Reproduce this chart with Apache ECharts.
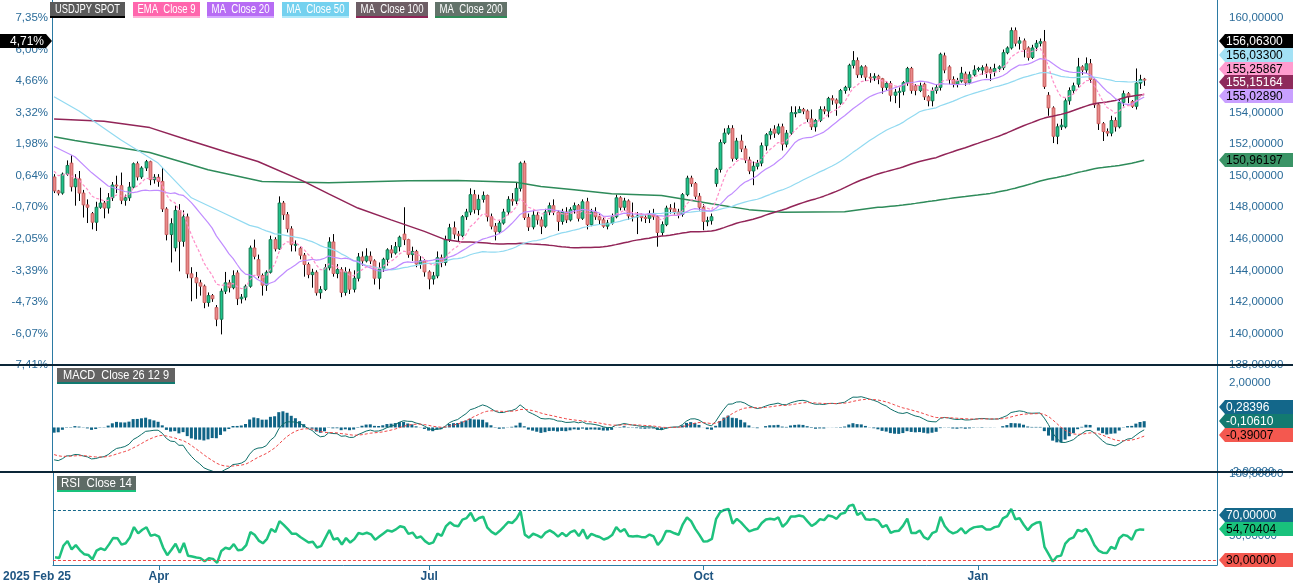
<!DOCTYPE html>
<html><head><meta charset="utf-8">
<script src="https://cdn.jsdelivr.net/npm/echarts@6/dist/echarts.min.js"></script>
<style>html,body{margin:0;padding:0;background:#fff}#c{width:1293px;height:586px}</style>
</head><body><div id="c"></div><script>
// ---------- DATA ----------
const startDate = '2025-02-25';
const slotCount = 280;
const firstLabel = '2025 Feb 25';
const tickDates = ['2025-04-01','2025-07-01','2025-10-01','2026-01-01'];
const tickLabels = ['Apr','Jul','Oct','Jan'];
const pctLabels = ['-7,41%','-6,07%','-4,73%','-3,39%','-2,05%','-0,70%','0,64%','1,98%','3,32%','4,66%','6,00%','7,35%'];

const opens = [149.92,149.04,148.9,150.1,150.8,149.3,149.8,148.9,148.15,147.6,
147.05,148.0,148.27,147.95,148.6,149.41,149.37,148.44,148.6,149.28,
150.76,149.92,150.49,150.89,149.75,149.9,149.64,147.89,146.27,145.43,
147.8,145.84,147.39,143.78,143.53,143.21,143.0,141.96,142.4,141.64,
140.9,142.68,143.21,142.9,143.84,142.2,142.3,142.99,145.42,144.68,
143.67,143.06,143.88,145.95,145.36,148.27,147.53,146.63,145.6,145.4,
144.96,144.37,143.73,143.88,142.58,142.79,144.16,145.8,143.8,144.05,
142.6,143.9,142.8,143.5,144.85,144.6,144.9,144.6,143.5,144.1,
144.7,145.3,145.1,145.5,146.3,145.95,145.0,145.2,144.4,144.6,
143.9,143.45,143.65,144.8,144.5,145.95,146.7,146.3,146.2,147.4,
147.7,148.8,147.85,148.5,148.75,147.4,146.8,146.45,147.0,147.7,
148.5,148.4,149.2,150.8,147.35,146.75,147.5,147.2,146.8,147.7,
148.1,147.7,147.1,147.7,147.2,147.85,148.1,147.3,148.35,146.9,
147.7,147.4,147.2,146.8,147.0,147.4,148.6,148.0,148.4,147.45,
147.4,147.45,147.35,147.3,147.6,147.4,146.4,146.9,147.95,147.9,
147.7,147.55,148.8,149.85,149.5,148.7,148.0,147.1,147.15,149.5,
150.4,152.1,152.7,153.0,151.1,152.2,151.7,151.0,150.3,150.6,
150.8,151.9,152.6,152.95,152.7,153.1,152.0,152.7,154.0,154.0,
154.2,154.1,153.6,153.1,153.5,154.2,154.1,154.9,154.8,154.6,
155.4,155.6,157.0,157.3,156.4,156.9,156.25,156.2,156.3,156.15,
155.6,155.85,155.1,155.3,155.35,155.9,156.8,155.7,155.4,155.8,
155.0,154.75,155.4,155.6,157.6,156.9,156.1,155.8,156.0,156.45,
155.9,156.4,156.75,156.7,156.9,156.75,156.6,156.8,156.85,157.8,
158.1,159.2,158.4,158.55,158.1,157.5,158.15,158.4,158.5,155.1,
154.3,152.5,153.1,153.1,154.75,155.4,155.8,156.9,156.7,157.1,
156.1,154.5,153.3,152.8,152.7,153.5,153.1,154.65,155.2,154.7,
154.4,155.87,156.12];

const closes = [149.04,148.9,150.1,150.65,149.3,149.8,148.9,148.15,148.0,147.05,
148.0,148.27,147.95,148.6,149.41,149.37,148.44,148.6,149.28,150.76,
149.92,150.49,150.89,149.75,149.9,149.64,147.89,146.27,146.96,147.8,
145.84,147.39,143.78,143.53,143.21,143.0,141.96,142.4,142.2,140.9,
142.68,143.21,142.9,143.67,142.2,142.3,142.99,145.42,144.89,143.67,
143.06,143.88,145.95,145.36,148.27,147.53,146.63,145.63,145.65,144.96,
144.37,143.73,143.88,142.58,142.79,144.16,145.8,143.8,144.05,142.6,
143.9,142.8,143.5,144.85,144.6,144.9,144.6,143.5,144.1,144.7,
145.3,145.1,145.5,146.1,145.95,145.0,145.2,144.4,144.6,143.9,
143.45,143.65,144.8,144.5,145.95,146.7,146.3,146.2,147.4,147.7,
148.8,147.85,148.5,148.75,147.4,146.8,146.45,147.0,147.7,148.5,
148.4,149.2,150.8,147.35,146.75,147.5,147.2,146.8,147.7,148.1,
147.7,147.1,147.7,147.2,147.85,148.1,147.3,148.35,146.9,147.7,
147.4,147.2,146.8,147.0,147.4,148.6,148.0,148.4,147.45,147.4,
147.45,147.35,147.3,147.6,147.4,146.4,146.9,147.95,147.9,147.7,
147.55,148.8,149.85,149.5,148.7,148.0,147.1,147.15,147.4,150.4,
152.1,152.7,153.0,151.1,152.2,151.7,151.0,150.3,150.6,150.8,
151.9,152.6,152.8,152.7,153.1,152.0,152.7,154.0,154.0,154.2,
154.1,153.6,153.1,153.5,154.2,154.1,154.9,154.8,154.6,155.4,
155.6,157.0,157.3,156.4,156.9,156.25,156.2,156.3,156.15,155.6,
155.85,155.1,155.3,155.35,155.9,156.8,155.4,155.4,155.7,155.0,
154.75,155.4,155.6,157.7,156.7,156.1,155.8,156.0,156.5,155.9,
156.4,156.7,156.8,156.85,156.56,156.55,156.8,156.9,157.8,158.1,
159.2,158.4,158.55,158.0,157.5,158.1,158.4,158.5,155.65,154.3,
152.5,153.1,153.2,154.75,155.4,155.7,156.9,156.7,157.1,156.1,
154.5,153.3,152.8,152.7,153.5,153.1,154.65,155.2,155.0,154.4,
155.87,156.1,156.063];

const lows = [148.9,148.75,148.8,150.0,149.0,148.1,148.4,147.35,147.0,146.6,
146.5,147.9,147.3,147.6,148.4,148.9,148.2,148.1,148.4,149.2,
149.7,149.8,150.3,149.4,149.5,149.3,147.7,145.9,144.5,145.2,
143.94,145.5,143.5,142.04,142.2,142.4,141.6,141.7,142.0,140.46,
139.94,142.5,142.6,142.8,141.8,141.9,142.1,142.9,144.7,143.5,
142.4,142.7,143.8,145.2,145.3,147.2,146.4,145.2,145.2,144.7,
143.6,143.5,142.9,142.4,142.2,142.7,144.0,143.6,143.5,142.3,
142.4,142.5,142.6,143.3,144.3,144.5,144.4,143.1,142.8,143.9,
144.3,144.8,145.0,145.2,145.6,144.8,144.6,144.2,144.1,143.6,
142.8,143.1,143.5,144.2,144.3,145.8,146.0,145.8,146.1,147.2,
147.5,147.6,147.5,148.3,147.1,146.6,145.9,146.3,146.9,147.5,
148.1,148.2,149.0,147.2,146.5,146.6,146.9,146.3,146.7,147.5,
147.5,146.5,146.9,147.0,147.1,147.6,147.1,147.2,146.6,146.8,
147.2,146.9,146.7,146.6,146.9,147.3,147.8,147.8,147.2,147.1,
146.3,147.1,147.0,147.0,147.2,145.5,146.2,146.8,147.6,147.5,
147.3,147.4,148.7,149.3,148.5,147.8,146.55,146.8,146.9,149.3,
150.2,152.0,152.6,150.9,151.0,151.5,150.8,150.1,149.4,150.4,
150.6,151.6,152.3,152.4,152.6,151.6,151.8,152.6,153.7,154.0,
153.9,153.4,152.9,152.8,153.4,153.9,153.7,154.5,153.8,154.5,
155.2,155.4,156.8,156.2,156.2,156.0,155.9,156.0,155.8,155.2,
155.4,154.7,154.6,154.3,155.1,155.7,155.2,155.1,155.3,154.8,
154.4,154.4,155.2,155.4,156.5,155.8,155.6,155.6,155.9,155.7,
155.8,156.3,156.6,156.4,156.2,156.0,156.3,156.6,156.7,157.7,
158.0,158.2,158.0,157.5,157.3,157.4,157.9,158.2,155.5,153.8,
152.07,152.0,152.9,153.0,154.5,155.2,155.6,156.4,156.5,155.9,
154.3,152.9,152.2,152.5,152.5,152.8,153.0,154.4,154.6,154.3,
154.2,155.5,155.7];

const highs = [150.1,149.1,150.2,150.97,151.3,150.1,150.3,149.1,148.5,147.7,
148.35,149.24,148.4,148.9,149.6,150.0,150.2,148.8,149.6,150.84,
150.9,150.6,151.0,150.95,150.1,150.1,150.49,148.0,147.3,148.1,
148.2,147.8,147.6,144.2,143.9,143.4,143.1,142.6,142.5,141.8,
142.85,143.9,143.4,144.0,144.0,142.5,143.1,145.57,145.95,145.0,
143.8,144.0,146.2,146.1,148.69,148.4,147.7,146.8,145.9,145.5,
145.1,144.5,144.1,144.0,143.0,144.4,146.1,146.3,144.4,144.2,
144.2,144.1,144.0,145.1,145.2,145.4,145.2,144.7,144.5,144.8,
145.4,145.6,145.8,146.2,148.0,146.0,145.5,145.3,144.9,144.7,
144.0,143.9,145.2,145.0,146.2,146.95,147.1,146.5,147.5,147.9,
149.2,149.1,148.8,149.0,148.8,147.6,147.0,147.2,147.9,148.7,
148.9,149.6,150.9,150.95,147.6,147.8,147.7,147.4,147.9,148.3,
148.5,147.8,147.9,148.0,148.0,148.3,148.2,148.5,148.6,147.9,
148.0,147.6,147.4,147.2,147.6,148.8,148.7,148.6,148.5,148.3,
147.7,147.6,147.5,147.8,147.9,147.5,147.1,148.1,148.2,148.3,
147.9,148.9,150.0,150.0,149.6,148.9,148.2,147.4,147.6,150.5,
152.3,153.0,153.2,153.2,152.4,152.6,151.9,151.2,150.9,151.0,
152.1,152.7,153.0,153.2,153.3,153.3,152.9,154.4,154.4,154.4,
154.3,154.2,154.2,153.6,154.4,154.4,155.0,155.1,154.9,155.5,
155.7,157.1,157.9,157.5,157.0,157.0,156.5,156.5,156.4,156.2,
156.0,156.0,155.5,155.6,156.0,156.9,156.9,155.8,155.9,155.9,
155.1,155.6,155.8,157.8,157.8,157.0,156.3,156.2,156.9,156.6,
156.6,157.0,156.9,157.0,157.1,156.9,157.1,157.0,158.0,158.2,
159.4,159.4,158.8,158.7,158.2,158.3,158.6,158.7,159.24,155.3,
154.4,153.3,153.6,154.9,155.6,155.9,157.47,157.0,157.5,157.4,
156.2,154.6,153.4,153.0,153.8,153.7,154.8,155.4,155.3,154.8,
156.8,156.4,156.2];

// indicator values read before enough history exists (category index / value)
const ma20EarlyIdx = [0,5,9,13,17];
const ma20EarlyVal = [151.85,151.2,150.2,149.35,149.0];
const ma50EarlyIdx = [0,6,16,25,33,41,47];
const ma50EarlyVal = [155.0,154.1,152.28,150.8,148.6,147.6,146.85];
const ma100EarlyIdx = [0,12,23,32,41,49,60,66,73,81,89,94,98];
const ma100EarlyVal = [153.6,153.45,153.05,152.28,151.53,150.9,149.64,148.85,147.95,147.2,146.47,145.95,145.8];
const ma200EarlyIdx = [0,5,23,37,50,66,85,97,105,111,117,125,134,146,158,167,175,190,198];
const ma200EarlyVal = [152.47,152.23,151.47,150.38,149.64,149.56,149.68,149.7,149.64,149.58,149.32,149.11,148.86,148.75,148.23,147.85,147.68,147.72,148.0];
const ema9Seed = 150.6;
const ema12Seed = 151.0, ema26Seed = 152.4, signalSeed = -1.16;
const rsiPrevCloseSeed = 149.92, rsiAvgGainSeed = 0.2, rsiAvgLossSeed = 0.35;

const priceTags = [
  {text:'156,06300', bg:'#000000', fg:'#ffffff', y:41},
  {text:'156,03300', bg:'#a3e1f5', fg:'#000000', y:55},
  {text:'155,25867', bg:'#ff9ccf', fg:'#000000', y:69},
  {text:'155,15164', bg:'#8e2a5b', fg:'#ffffff', y:82},
  {text:'155,02890', bg:'#c9a0ff', fg:'#000000', y:96},
  {text:'150,96197', bg:'#3a9466', fg:'#000000', y:160},
  {text:'0,28396', bg:'#13678a', fg:'#ffffff', y:407},
  {text:'-0,10610', bg:'#137a70', fg:'#ffffff', y:421},
  {text:'-0,39007', bg:'#f4584f', fg:'#000000', y:435},
  {text:'70,00000', bg:'#15688a', fg:'#ffffff', y:515},
  {text:'54,70404', bg:'#19c27c', fg:'#000000', y:529},
  {text:'30,00000', bg:'#f4584f', fg:'#000000', y:560}
];
const pctTag = '4,71%';
const legendItems = [
  {text:'USDJPY SPOT', bg:'#5a5a5a', line:'#000000', x:50, w:75, tw:65},
  {text:'EMA  Close 9', bg:'#ff66ad', line:'#ffb2d6', x:133, w:67, tw:58},
  {text:'MA  Close 20', bg:'#b76cf4', line:'#d4a8ff', x:207, w:67, tw:58},
  {text:'MA  Close 50', bg:'#74d1ef', line:'#b2e9f9', x:282, w:67, tw:58},
  {text:'MA  Close 100', bg:'#6d5e65', line:'#8e2456', x:356, w:72, tw:63},
  {text:'MA  Close 200', bg:'#63736a', line:'#2e8b57', x:435, w:72, tw:63},
  {text:'MACD  Close 26 12 9', bg:'#636363', line:'#127a70', x:57, w:118, tw:106, y:368},
  {text:'RSI  Close 14', bg:'#5e6b66', line:'#19c27c', x:57, w:79, tw:71, y:476}
];

// ---------- derived ----------
const cats = [];
(function(){ let d = new Date(startDate + 'T00:00:00Z');
  while (cats.length < slotCount) { const w = d.getUTCDay();
    if (w !== 0 && w !== 6) cats.push(d.toISOString().slice(0,10));
    d.setUTCDate(d.getUTCDate() + 1); } })();
const n = closes.length;
function sma(period, eIdx, eVal) {
  const out = closes.map(() => null);
  eIdx.forEach((k, j) => { out[k] = eVal[j]; });
  let s = 0;
  for (let i = 0; i < n; i++) { s += closes[i]; if (i >= period) s -= closes[i - period];
    if (i >= period - 1) out[i] = +(s / period).toFixed(4); }
  return out;
}
const ma20 = sma(20, ma20EarlyIdx, ma20EarlyVal);
const ma50 = sma(50, ma50EarlyIdx, ma50EarlyVal);
const ma100 = sma(100, ma100EarlyIdx, ma100EarlyVal);
const ma200 = sma(200, ma200EarlyIdx, ma200EarlyVal);
const ema9 = []; { let e = ema9Seed; closes.forEach(c => { e += (c - e) * 0.2; ema9.push(+e.toFixed(4)); }); }
const macd = [], signal = [], hist = [];
{ let e12 = ema12Seed, e26 = ema26Seed, sg = signalSeed;
  closes.forEach(c => { e12 += (c - e12) * 2 / 13; e26 += (c - e26) * 2 / 27; const m = e12 - e26;
    sg += (m - sg) * 0.2; macd.push(+m.toFixed(4)); signal.push(+sg.toFixed(4)); hist.push(+(m - sg).toFixed(4)); }); }
const rsi = [];
{ let p = rsiPrevCloseSeed, ag = rsiAvgGainSeed, al = rsiAvgLossSeed;
  closes.forEach(c => { const d = c - p; p = c; ag = (ag * 13 + Math.max(d, 0)) / 14; al = (al * 13 + Math.max(-d, 0)) / 14;
    rsi.push(+(100 - 100 / (1 + ag / al)).toFixed(3)); }); }
const candleRows = closes.map((c, i) => [i, opens[i], c, lows[i], highs[i]]);

// ---------- chart ----------
const FONT = '"Liberation Sans", Arial, sans-serif';
const AX = '#2b7aa3';
const LBL = '#2a6b99';
const chart = echarts.init(document.getElementById('c'), null, {renderer: 'canvas'});
const fmt5 = v => v.toFixed(5).replace('.', ',');
const tickSet = new Set(tickDates);
const measureCtx = document.createElement('canvas').getContext('2d');
measureCtx.font = '12px ' + FONT;
const baseX = {type:'category', data:cats, boundaryGap:true, axisLine:{show:false}, axisTick:{show:false}, axisLabel:{show:false}, splitLine:{show:false}};
function yAx(grid, pos, min, max, extra) {
  return Object.assign({type:'value', gridIndex:grid, position:pos, min:min, max:max, scale:true,
    axisLine:{show:true, lineStyle:{color:AX, width:1}}, axisTick:{show:false}, splitLine:{show:false},
    axisLabel:{show:false}}, extra || {});
}
const graphics = [];
[365, 472].forEach(y => graphics.push({type:'line', z:100, shape:{x1:0, y1:y, x2:1293, y2:y}, style:{stroke:'#0c2638', lineWidth:2}}));
legendItems.forEach(it => {
  const y = it.y || 2;
  const sx = it.tw / measureCtx.measureText(it.text).width;
  graphics.push({type:'rect', z:110, shape:{x:it.x, y:y, width:it.w, height:14}, style:{fill:it.bg}});
  graphics.push({type:'rect', z:110, shape:{x:it.x, y:y + 14, width:it.w, height:2}, style:{fill:it.line}});
  graphics.push({type:'text', z:111, x:it.x + (it.w - it.tw) / 2, y:y + 7.5, scaleX:sx,
    style:{text:it.text, fill:'#fff', font:'12px ' + FONT, verticalAlign:'middle', align:'left'}});
});
priceTags.forEach(t => {
  const x0 = 1219, x1 = 1293, h = 7;
  graphics.push({type:'polygon', z:120, shape:{points:[[x0, t.y], [x0 + 6, t.y - h], [x1, t.y - h], [x1, t.y + h], [x0 + 6, t.y + h]]}, style:{fill:t.bg}});
  graphics.push({type:'text', z:121, x:x0 + 7, y:t.y + 0.5, style:{text:t.text, fill:t.fg, font:'12px ' + FONT, verticalAlign:'middle', align:'left'}});
});
graphics.push({type:'polygon', z:120, shape:{points:[[0, 34], [46, 34], [52, 41], [46, 48], [0, 48]]}, style:{fill:'#000'}});
graphics.push({type:'text', z:121, x:44, y:41.5, style:{text:pctTag, fill:'#fff', font:'12px ' + FONT, verticalAlign:'middle', align:'right'}});

const option = {
  animation:false,
  backgroundColor:'#ffffff',
  grid:[
    {left:52, right:76, top:0, height:365},
    {left:52, right:76, top:366, height:106},
    {left:52, right:76, top:473, height:92}
  ],
  xAxis:[
    Object.assign({}, baseX, {gridIndex:0}),
    Object.assign({}, baseX, {gridIndex:1}),
    Object.assign({}, baseX, {gridIndex:2,
      axisLine:{show:true, lineStyle:{color:AX, width:1}},
      axisTick:{show:true, alignWithLabel:true, length:5, lineStyle:{color:AX}, interval:(i, v) => tickSet.has(v)},
      axisLabel:{show:true, interval:(i, v) => i === 0 || tickSet.has(v), margin:6, fontSize:12, fontWeight:'bold', fontFamily:FONT, color:'#1f5582',
        formatter:(v, i) => i === 0 ? '{a|' + firstLabel + '}' : tickLabels[tickDates.indexOf(v)],
        rich:{a:{padding:[0, 36, 0, 0], fontSize:12, fontWeight:'bold', fontFamily:FONT, color:'#1f5582'}}}
    })
  ],
  yAxis:[
    yAx(0, 'right', 138, 161.14, {interval:2, axisLabel:{show:true, showMaxLabel:false, margin:12, fontSize:11.5, fontFamily:FONT, color:LBL, formatter:fmt5}}),
    yAx(0, 'left', 138, 161.14, {interval:2, axisLabel:{show:true, showMaxLabel:false, margin:4, fontSize:11.5, fontFamily:FONT, color:LBL,
      formatter:v => { const k = Math.round((v - 138) / 2); return Math.abs(v - 138 - 2 * k) < 1e-6 && pctLabels[k] ? pctLabels[k] : ''; }}}),
    yAx(1, 'right', -2, 2.76, {interval:2, axisLabel:{show:true, showMaxLabel:false, margin:12, fontSize:11.5, fontFamily:FONT, color:LBL, formatter:fmt5}}),
    yAx(1, 'left', -2, 2.76),
    yAx(2, 'right', 26.2, 100.4, {axisLabel:{show:true, showMaxLabel:false, showMinLabel:false, margin:12, fontSize:11.5, fontFamily:FONT, color:LBL,
      formatter:v => (v === 50 || v === 100) ? fmt5(v) : ''}}),
    yAx(2, 'left', 26.2, 100.4)
  ],
  series:[
    {type:'custom', name:'USDJPY SPOT', xAxisIndex:0, yAxisIndex:0, z:2, clip:true,
      encode:{x:0, y:[1, 2, 3, 4]}, data:candleRows,
      renderItem:(params, api) => {
        const i = api.value(0), ov = api.value(1), cv = api.value(2);
        const o = api.coord([i, ov]), c = api.coord([i, cv]);
        const l = api.coord([i, api.value(3)]), h = api.coord([i, api.value(4)]);
        const up = cv >= ov;
        const bw = api.size([1, 0])[0] * 0.66;
        const x = Math.round(o[0]) + 0.5;
        const top = Math.min(o[1], c[1]), bh = Math.max(Math.abs(o[1] - c[1]), 1);
        return {type:'group', children:[
          {type:'line', shape:{x1:x, y1:h[1], x2:x, y2:l[1]}, style:{stroke:'#000', lineWidth:1}},
          {type:'rect', shape:{x:x - bw / 2, y:top, width:bw, height:bh},
            style:{fill: up ? '#1ec48b' : '#e98a8a', stroke: up ? '#137a52' : '#c95c5c', lineWidth:1}}
        ]};
      }},
    {type:'line', name:'MA Close 200', xAxisIndex:0, yAxisIndex:0, z:3, data:ma200, connectNulls:true, symbol:'none', lineStyle:{color:'#2e8b5a', width:1.5}},
    {type:'line', name:'MA Close 100', xAxisIndex:0, yAxisIndex:0, z:3, data:ma100, connectNulls:true, symbol:'none', lineStyle:{color:'#922558', width:1.5}},
    {type:'line', name:'MA Close 50', xAxisIndex:0, yAxisIndex:0, z:3, data:ma50, connectNulls:true, symbol:'none', lineStyle:{color:'#92daf1', width:1.2}},
    {type:'line', name:'MA Close 20', xAxisIndex:0, yAxisIndex:0, z:3, data:ma20, connectNulls:true, symbol:'none', lineStyle:{color:'#c08cff', width:1.2}},
    {type:'line', name:'EMA Close 9', xAxisIndex:0, yAxisIndex:0, z:3, data:ema9, symbol:'none', lineStyle:{color:'#ff8ec8', width:1.2, type:[3, 2]}},
    {type:'bar', name:'MACD hist', xAxisIndex:1, yAxisIndex:2, data:hist, barWidth:3, itemStyle:{color:'#0f6486'}},
    {type:'line', name:'MACD', xAxisIndex:1, yAxisIndex:2, data:macd, symbol:'none', lineStyle:{color:'#0f6f6a', width:1}},
    {type:'line', name:'Signal', xAxisIndex:1, yAxisIndex:2, data:signal, symbol:'none', lineStyle:{color:'#f04848', width:1, type:[3, 2]}},
    {type:'line', name:'RSI Close 14', xAxisIndex:2, yAxisIndex:4, data:rsi, symbol:'none', lineStyle:{color:'#1ec27e', width:2.5},
      markLine:{silent:true, symbol:'none', label:{show:false},
        data:[{yAxis:70, lineStyle:{color:'#15688a', type:[3, 2], width:1}}, {yAxis:30, lineStyle:{color:'#f04848', type:[3, 2], width:1}}]}}
  ],
  graphic:graphics
};
chart.setOption(option);
</script></body></html>
